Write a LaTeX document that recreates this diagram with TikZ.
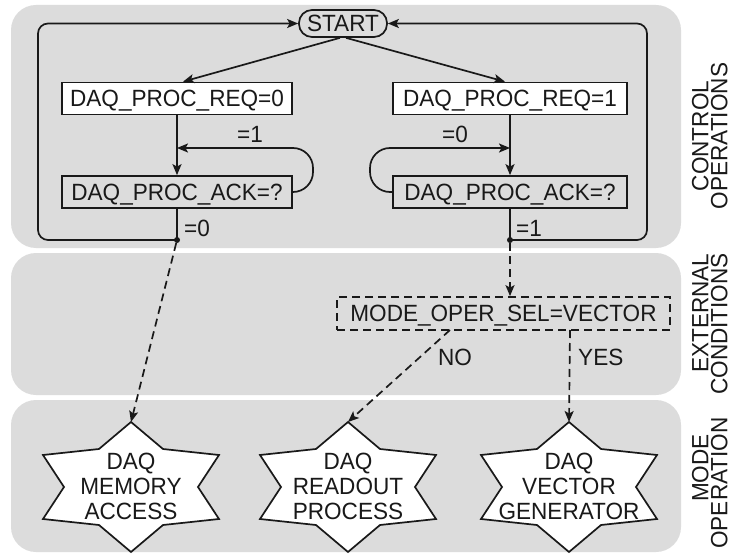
\documentclass[tikz,border=0pt]{standalone}
\usepackage{fontspec}
\setmainfont[FakeStretch=0.96]{Liberation Sans}
\usetikzlibrary{arrows.meta}
\definecolor{bandgray}{RGB}{220,220,220}
\definecolor{ink}{RGB}{25,25,25}
\begin{document}
\begin{tikzpicture}[x=1pt,y=-1pt,
  every node/.style={font=\fontsize{23.5}{25}\selectfont, text=ink},
  band/.style={fill=bandgray, rounded corners=25pt},
  boxw/.style={draw=ink, line width=1.7pt, inner sep=0pt, minimum height=32pt, text height=16.5pt, text depth=0pt},
  lbl/.style={inner sep=0pt, text height=16.5pt, text depth=0pt},
  conn/.style={draw=ink, line width=1.7pt},
  arr/.style={conn, -{Stealth[length=11pt,width=9pt,inset=2.5pt]}},
  darr/.style={arr, dash pattern=on 8pt off 5pt},
  dot/.style={circle, fill=ink, inner sep=0pt, minimum size=6pt},
  starline/.style={draw=ink, fill=white, line width=1.7pt, line join=miter},
  startext/.style={align=center, inner sep=0pt}
]
\useasboundingbox (0,0) rectangle (733,556);
\fill[white] (0,0) rectangle (733,556);
\path[band] (11,5) rectangle (681,248);
\path[band] (11,253) rectangle (681,395);
\path[band] (11,400) rectangle (681,552);

% side labels
\node[lbl, rotate=90] (lc1) at (700,136) {CONTROL};
\node[lbl, rotate=90] (lc2) at (719,136) {OPERATIONS};
\node[lbl, rotate=90] (le1) at (700,313) {EXTERNAL};
\node[lbl, rotate=90] (le2) at (719,324) {CONDITIONS};
\node[lbl, rotate=90] (lm1) at (700,468) {MODE};
\node[lbl, rotate=90] (lm2) at (719,483) {OPERATION};

% stars
\foreach \cx/\nm in {131/s1,348/s2,569/s3}{
  \draw[starline, shift={(\cx,487)}] (0,-65) -- (-32,-38) -- (-88,-32) -- (-67,0) -- (-88,32) -- (-32,38) -- (0,65)
     -- (32,38) -- (88,32) -- (67,0) -- (88,-32) -- (32,-38) -- cycle;
  \coordinate (\nm-top) at (\cx,422);
}
\node[startext] (t1) at (131,486) {DAQ\\MEMORY\\ACCESS};
\node[startext] (t2) at (348,486) {DAQ\\READOUT\\PROCESS};
\node[startext] (t3) at (569,486) {DAQ\\VECTOR\\GENERATOR};

% control nodes
\node[boxw, rounded corners=13pt, minimum width=88pt, minimum height=27pt] (start) at (343,23.5) {START};
\node[boxw, fill=white, minimum width=230pt] (req0) at (177,98.5) {DAQ\_PROC\_REQ=0};
\node[boxw, minimum width=230pt] (ack0) at (177,192) {DAQ\_PROC\_ACK=?};
\node[boxw, fill=white, minimum width=234pt] (req1) at (510,98.5) {DAQ\_PROC\_REQ=1};
\node[boxw, minimum width=234pt] (ack1) at (510,192) {DAQ\_PROC\_ACK=?};
\node[boxw, dash pattern=on 8pt off 5pt, minimum width=333pt, minimum height=33pt] (mode) at (503.5,313.5) {MODE\_OPER\_SEL=VECTOR};

\node[dot] (d0) at (177,240) {};
\node[dot] (d1) at (510,240) {};

\coordinate (j0) at (177,148);
\coordinate (j1) at (510,148);
\coordinate (k0) at (313,148);
\coordinate (k1) at (370,148);
\coordinate (L0) at (38,240);
\coordinate (L1) at (38,23.5);
\coordinate (R0) at (647,240);
\coordinate (R1) at (647,23.5);
\coordinate (no0) at (450,330);
\coordinate (yes0) at (570,330);

% connectors
\draw[arr] ([xshift=-3pt]start.south) -- ([xshift=6pt]req0.north);
\draw[arr] ([xshift=3pt]start.south) -- ([xshift=-5pt]req1.north);
\draw[arr] (req0.south) -- (ack0.north);
\draw[arr] (req1.south) -- (ack1.north);
\draw[arr, rounded corners=20pt] (ack0.east) -| (k0) -- (j0);
\draw[arr, rounded corners=20pt] (ack1.west) -| (k1) -- (j1);
\draw[conn] (ack0.south) -- (d0.center);
\draw[conn] (ack1.south) -- (d1.center);
\draw[arr, rounded corners=10pt] (d0.center) -- (L0) -- (L1) -- (start.west);
\draw[arr, rounded corners=10pt] (d1.center) -- (R0) -- (R1) -- (start.east);
\draw[darr] (d0) -- (s1-top);
\draw[darr] (d1) -- (d1 |- mode.north);
\draw[darr] (no0) -- (s2-top);
\draw[darr] (yes0) -- (s3-top);

% labels
\node[lbl] (l1) at (250,134) {=1};
\node[lbl] (l2) at (455,134) {=0};
\node[lbl] (l3) at (197,228) {=0};
\node[lbl] (l4) at (529,228) {=1};
\node[lbl, anchor=west] (lno) at (438,357) {NO};
\node[lbl, anchor=west] (lyes) at (578,357) {YES};
\end{tikzpicture}
\end{document}
